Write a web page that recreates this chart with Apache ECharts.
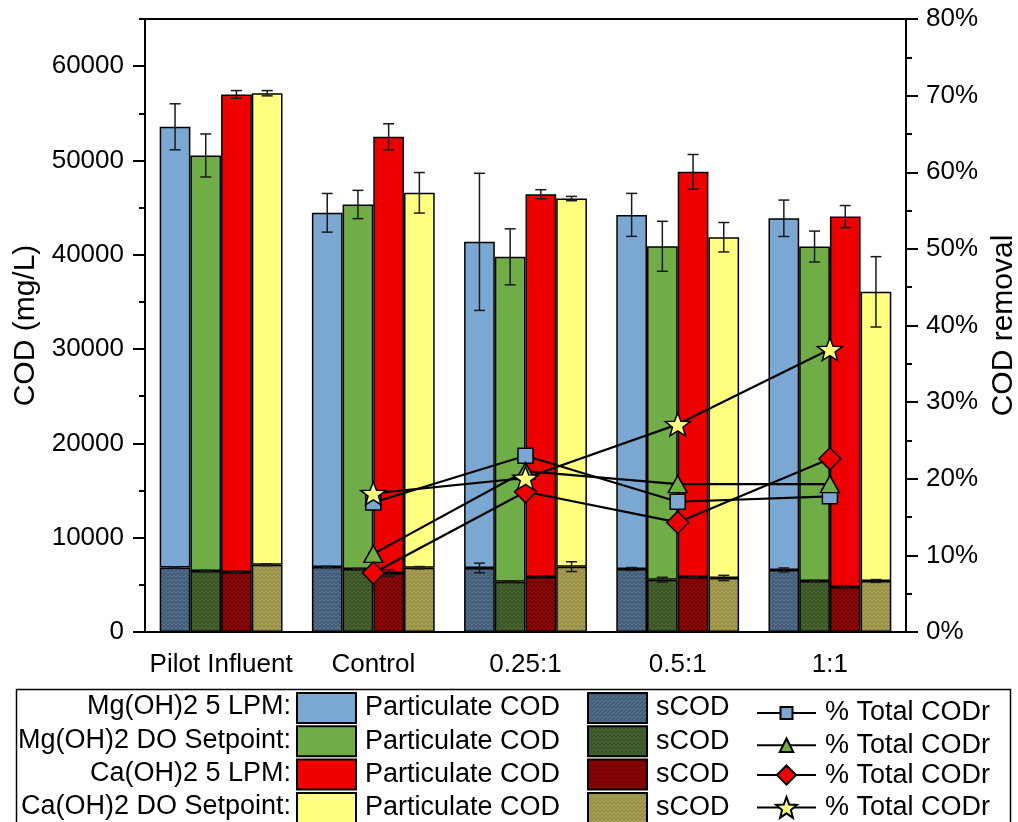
<!DOCTYPE html>
<html>
<head>
<meta charset="utf-8">
<script src="https://cdn.jsdelivr.net/npm/echarts@6/dist/echarts.min.js"></script>
<style>
  html, body { margin: 0; padding: 0; background: #fff; }
  #chart { width: 1018px; height: 822px; }
</style>
</head>
<body>
<div id="chart"></div>
<script>
// ---------------- DATA ----------------
const categories = ['Pilot Influent', 'Control', '0.25:1', '0.5:1', '1:1'];
const groupLabels = ['Mg(OH)2 5 LPM:', 'Mg(OH)2 DO Setpoint:', 'Ca(OH)2 5 LPM:', 'Ca(OH)2 DO Setpoint:'];

// Total COD (top of each stacked bar), mg/L, with error
const totalMg5   = [53570, 44450, 41370, 44230, 43870];
const totalMgDO  = [50530, 45330, 39780, 40900, 40870];
const totalCa5   = [57000, 52510, 46420, 48790, 44050];
const totalCaDO  = [57130, 46570, 45960, 41860, 36070];
const totalErrMg5  = [2440, 2050, 7270, 2280, 1930];
const totalErrMgDO = [2280, 1500, 2970, 2650, 1640];
const totalErrCa5  = [410, 1380, 480, 1840, 1170];
const totalErrCaDO = [280, 2150, 230, 1560, 3730];

// Soluble COD (bottom segment), mg/L, with error
const sCODMg5  = [6850, 6900, 6790, 6680, 6580];
const sCODMgDO = [6470, 6680, 5340, 5550, 5410];
const sCODCa5  = [6360, 6260, 5830, 5830, 4770];
const sCODCaDO = [7140, 6820, 6930, 5730, 5410];
const sErrMg5  = [60, 60, 510, 160, 210];
const sErrMgDO = [70, 60, 60, 250, 60];
const sErrCa5  = [60, 350, 110, 60, 60];
const sErrCaDO = [100, 120, 520, 280, 150];

// % Total COD removal (right axis)
const removalMg5  = [null, 16.9, 23.0, 17.0, 17.7];
const removalMgDO = [null, 10.2, 21.0, 19.3, 19.3];
const removalCa5  = [null, 7.7, 18.3, 14.3, 22.6];
const removalCaDO = [null, 18.1, 20.1, 27.1, 36.9];

const leftTicks = [0, 10000, 20000, 30000, 40000, 50000, 60000];
const leftMinorTicks = [5000, 15000, 25000, 35000, 45000, 55000, 65000];

// ---------------- STYLE ----------------
const FONT = 'Liberation Sans, Arial, sans-serif';
const partColors = ['#7BA7D3', '#70AD47', '#EE0000', '#FFFF80'];
const sBase = ['#425C7A', '#3A5426', '#780000', '#979046'];
const sDot  = ['#607A94', '#52703A', '#990E0E', '#B3AA62'];
const markerSymbols = ['rect', 'triangle', 'diamond',
  'path://M50,0L62.3,33L97.6,34.5L70,56.5L79.4,90.5L50,71L20.6,90.5L30,56.5L2.4,34.5L37.7,33Z'];
const markerSizes = [15, [19, 17], [22, 22], [25, 24]];
const legendSymbolBox = [15, 17, 24, 26];
const GAP = 0.193;

function pattern(base, dot) {
  const c = document.createElement('canvas');
  c.width = 4; c.height = 4;
  const ctx = c.getContext('2d');
  ctx.fillStyle = base; ctx.fillRect(0, 0, 4, 4);
  ctx.fillStyle = dot;
  ctx.fillRect(0, 0, 1, 1); ctx.fillRect(2, 2, 1, 1);
  ctx.fillRect(3, 0, 1, 1); ctx.fillRect(1, 3, 1, 1);
  return { image: c, repeat: 'repeat' };
}

const totals = [totalMg5, totalMgDO, totalCa5, totalCaDO];
const totalErrs = [totalErrMg5, totalErrMgDO, totalErrCa5, totalErrCaDO];
const sCODs = [sCODMg5, sCODMgDO, sCODCa5, sCODCaDO];
const sErrs = [sErrMg5, sErrMgDO, sErrCa5, sErrCaDO];
const removals = [removalMg5, removalMgDO, removalCa5, removalCaDO];

const series = [];
const partNames = [], sNames = [], lineNames = [];
for (let g = 0; g < 4; g++) {
  const sName = groupLabels[g] + ' sCOD';
  const pName = groupLabels[g] + ' Particulate COD';
  sNames.push(sName); partNames.push(pName);
  series.push({
    name: sName, type: 'bar', stack: 'g' + g, xAxisIndex: 0, yAxisIndex: 0,
    barGap: 0, barCategoryGap: (GAP * 100) + '%', z: 2,
    itemStyle: { color: pattern(sBase[g], sDot[g]), borderColor: '#000', borderWidth: 1.5 },
    data: sCODs[g]
  });
  series.push({
    name: pName, type: 'bar', stack: 'g' + g, xAxisIndex: 0, yAxisIndex: 0,
    barGap: 0, barCategoryGap: (GAP * 100) + '%', z: 2,
    itemStyle: { color: partColors[g], borderColor: '#000', borderWidth: 1.5 },
    data: totals[g].map((t, i) => t - sCODs[g][i])
  });
}
// error bars
for (let g = 0; g < 4; g++) {
  const data = [];
  for (let i = 0; i < categories.length; i++) {
    data.push([i, totals[g][i], totalErrs[g][i]]);
    data.push([i, sCODs[g][i], sErrs[g][i]]);
  }
  series.push({
    type: 'custom', xAxisIndex: 0, yAxisIndex: 0, z: 3, silent: true,
    encode: { x: 0, y: 1 },
    data,
    renderItem: (params, api) => {
      const cat = api.value(0), v = api.value(1), e = api.value(2);
      const c = api.coord([cat, v]);
      const band = api.size([1, 0])[0];
      const bw = band * (1 - GAP) / 4;
      const x = c[0] + (g - 1.5) * bw;
      const yHi = api.coord([cat, v + e])[1];
      const yLo = api.coord([cat, v - e])[1];
      const cap = 5.5;
      const st = { stroke: '#1a1a1a', lineWidth: 1.5 };
      return {
        type: 'group', children: [
          { type: 'line', shape: { x1: x, y1: yHi, x2: x, y2: yLo }, style: st },
          { type: 'line', shape: { x1: x - cap, y1: yHi, x2: x + cap, y2: yHi }, style: st },
          { type: 'line', shape: { x1: x - cap, y1: yLo, x2: x + cap, y2: yLo }, style: st }
        ]
      };
    }
  });
}
// removal lines
for (let g = 0; g < 4; g++) {
  const lName = groupLabels[g] + ' % Total CODr';
  lineNames.push(lName);
  series.push({
    name: lName, type: 'line', xAxisIndex: 0, yAxisIndex: 1, z: 10 + g,
    symbol: markerSymbols[g], symbolSize: markerSizes[g], symbolKeepAspect: true,
    showAllSymbol: true,
    itemStyle: { color: partColors[g], borderColor: '#000', borderWidth: 1.5 },
    lineStyle: { color: '#000', width: 2.2 },
    data: removals[g]
  });
}

const chart = echarts.init(document.getElementById('chart'), null, { renderer: 'canvas' });
const LEG_FS = 27;
const ROW0 = 707, ROWSTEP = 33.3;

const legends = [];
for (let k = 0; k < 4; k++) {
  const cy = ROW0 + k * ROWSTEP;
  legends.push({
    orient: 'horizontal', left: 296, top: cy - 15, itemWidth: 59, itemHeight: 30, icon: 'rect',
    padding: 0, selectedMode: false, data: [partNames[k]], formatter: () => 'Particulate COD',
    textStyle: { fontFamily: FONT, fontSize: LEG_FS, color: '#000', lineHeight: 30, padding: [0, 0, 0, 4] }
  });
  legends.push({
    orient: 'horizontal', left: 587, top: cy - 15, itemWidth: 59, itemHeight: 30, icon: 'rect',
    padding: 0, selectedMode: false, data: [sNames[k]], formatter: () => 'sCOD',
    textStyle: { fontFamily: FONT, fontSize: LEG_FS, color: '#000', lineHeight: 30, padding: [0, 0, 0, 4] }
  });
  const h = legendSymbolBox[k];
  legends.push({
    orient: 'horizontal', left: 756, top: cy - h / 2, itemWidth: 59, itemHeight: h,
    padding: 0, selectedMode: false, data: [lineNames[k]], formatter: () => '% Total CODr',
    textStyle: { fontFamily: FONT, fontSize: LEG_FS, color: '#000', lineHeight: h, padding: [0, 0, 0, 4] }
  });
}

const option = {
  animation: false,
  backgroundColor: '#fff',
  grid: {
    left: 145, top: 19, width: 761, height: 613, outerBoundsMode: 'none', containLabel: false,
    show: true, borderColor: '#000', borderWidth: 2, backgroundColor: 'transparent'
  },
  xAxis: [
    {
      type: 'category', data: categories, position: 'bottom',
      axisLine: { lineStyle: { color: '#000', width: 2 } },
      axisTick: { alignWithLabel: true, length: 11, lineStyle: { color: '#000', width: 2 } },
      axisLabel: { interval: 0, fontFamily: FONT, fontSize: 26, color: '#000', margin: 20 }
    },
    {
      type: 'category', data: categories, position: 'bottom',
      axisLine: { show: false },
      axisTick: { length: 6, lineStyle: { color: '#000', width: 2 } },
      axisLabel: { show: false }
    }
  ],
  yAxis: [
    {
      type: 'value', min: 0, max: 65000, position: 'left',
      name: 'COD (mg/L)', nameLocation: 'middle', nameGap: 100,
      nameTextStyle: { fontFamily: FONT, fontSize: 30, color: '#000' },
      axisLine: { show: true, lineStyle: { color: '#000', width: 2 } },
      axisTick: { show: true, length: 12, customValues: leftTicks, lineStyle: { color: '#000', width: 2 } },
      axisLabel: { customValues: leftTicks, fontFamily: FONT, fontSize: 26, color: '#000', margin: 21, formatter: v => String(v) },
      splitLine: { show: false }
    },
    {
      type: 'value', min: 0, max: 80, interval: 10, position: 'right',
      name: 'COD removal', nameLocation: 'middle', nameGap: 81, nameRotate: 90,
      nameTextStyle: { fontFamily: FONT, fontSize: 30, color: '#000' },
      axisLine: { show: true, lineStyle: { color: '#000', width: 2 } },
      axisTick: { show: true, length: 12, lineStyle: { color: '#000', width: 2 } },
      minorTick: { show: true, splitNumber: 2, length: 6, lineStyle: { color: '#000', width: 2 } },
      axisLabel: { fontFamily: FONT, fontSize: 26, color: '#000', margin: 20, formatter: '{value}%' },
      splitLine: { show: false }
    },
    {
      type: 'value', min: 0, max: 65000, position: 'left', offset: 0,
      axisLine: { show: false },
      axisTick: { show: true, length: 6, customValues: leftMinorTicks, lineStyle: { color: '#000', width: 2 } },
      axisLabel: { show: false },
      splitLine: { show: false }
    }
  ],
  legend: legends,
  graphic: [
    { type: 'rect', left: 14, top: 687, shape: { x: 0, y: 0, width: 994, height: 160 }, style: { fill: 'none', stroke: '#000', lineWidth: 1.5 }, silent: true },
    ...groupLabels.map((t, k) => ({
      type: 'text', x: 291, y: ROW0 + k * ROWSTEP,
      style: { text: t, fontFamily: FONT, fontSize: LEG_FS, fill: '#000', align: 'right', verticalAlign: 'middle' },
      silent: true
    }))
  ],
  series
};
chart.setOption(option);
</script>
</body>
</html>
